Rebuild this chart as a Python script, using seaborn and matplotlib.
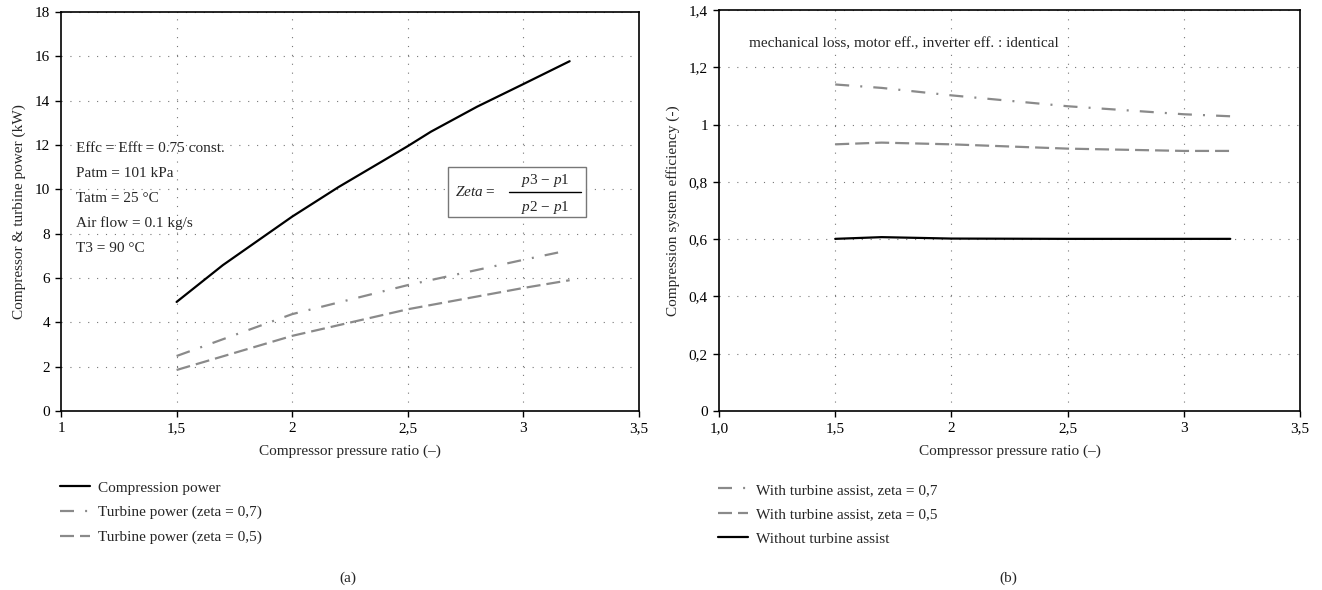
import matplotlib
matplotlib.use("Agg")
import matplotlib.pyplot as plt
from matplotlib.patches import Rectangle
import seaborn as sns

# ---- data ----
ratio_comp = [1.5, 1.7, 2.0, 2.2, 2.4, 2.5, 2.6, 2.8, 3.0, 3.2]
comp_power = [4.92, 6.58, 8.77, 10.1, 11.33, 11.95, 12.6, 13.73, 14.75, 15.78]
ratio_t07 = [1.5, 2.0, 2.5, 3.0, 3.15]
turb_07 = [2.48, 4.37, 5.68, 6.82, 7.15]
ratio_t05 = [1.5, 2.0, 2.5, 3.0, 3.2]
turb_05 = [1.85, 3.39, 4.59, 5.55, 5.9]

ratio_eff = [1.5, 1.7, 2.0, 2.5, 3.0, 3.2]
eff_07 = [1.140, 1.128, 1.102, 1.064, 1.036, 1.029]
eff_05 = [0.931, 0.937, 0.931, 0.916, 0.908, 0.908]
eff_none = [0.601, 0.607, 0.602, 0.601, 0.601, 0.601]

xticks_a = [1, 1.5, 2, 2.5, 3, 3.5]
xlabels_a = ["1", "1,5", "2", "2,5", "3", "3,5"]
xlabels_b = ["1,0", "1,5", "2", "2,5", "3", "3,5"]
yticks_a = [0, 2, 4, 6, 8, 10, 12, 14, 16, 18]
yticks_b = [0, 0.2, 0.4, 0.6, 0.8, 1.0, 1.2, 1.4]
ylabels_b = ["0", "0,2", "0,4", "0,6", "0,8", "1", "1,2", "1,4"]

sns.set_theme(style="white")
plt.rcParams["font.family"] = ["Liberation Serif", "DejaVu Serif"]
plt.rcParams["mathtext.fontset"] = "custom"
plt.rcParams["mathtext.rm"] = "Liberation Serif"
plt.rcParams["mathtext.it"] = "Liberation Serif:italic"

W, H = 1322, 590
fig = plt.figure(figsize=(W / 100, H / 100), dpi=100)
fig.patch.set_facecolor("white")

def ax_rect(x0, x1, y0, y1):
    return [x0 / W, 1 - y1 / H, (x1 - x0) / W, (y1 - y0) / H]

axA = fig.add_axes(ax_rect(61, 639, 12, 411))
axB = fig.add_axes(ax_rect(719, 1300, 10, 411))

FS = 11
GRAY = "#8a8a8a"
DASHDOT = (0, (6.3, 5, 0.9, 5))
DASHED = (0, (6.3, 2.7))

def style(ax, yticks, ylabels, xlabels, ylim, ylabel):
    ax.set_xlim(1, 3.5)
    ax.set_ylim(*ylim)
    ax.set_xticks(xticks_a)
    ax.set_xticklabels(xlabels, fontsize=FS)
    ax.set_yticks(yticks)
    ax.set_yticklabels(ylabels, fontsize=FS)
    ax.tick_params(axis="both", direction="out", length=4, width=1, colors="black",
                   bottom=True, left=True, pad=4)
    for s in ax.spines.values():
        s.set_color("black")
        s.set_linewidth(1.2)
    ax.set_xlabel("Compressor pressure ratio (–)", fontsize=FS, labelpad=7)
    ax.set_ylabel(ylabel, fontsize=FS, labelpad=6)
    for xv in xticks_a[1:-1]:
        ax.axvline(xv, color="#777777", lw=0.8, ls=(0, (1, 7)), zorder=0)
    for yv in yticks[1:]:
        ax.axhline(yv, color="#777777", lw=0.8, ls=(0, (1, 7)), zorder=0)

# ---- panel (a) ----
sns.lineplot(x=ratio_comp, y=comp_power, ax=axA, color="black", lw=1.6,
             label="Compression power")
sns.lineplot(x=ratio_t07, y=turb_07, ax=axA, color=GRAY, lw=1.6,
             linestyle=DASHDOT, label="Turbine power (zeta = 0,7)")
sns.lineplot(x=ratio_t05, y=turb_05, ax=axA, color=GRAY, lw=1.6,
             linestyle=DASHED, label="Turbine power (zeta = 0,5)")
style(axA, yticks_a, [str(v) for v in yticks_a], xlabels_a, (0, 18),
      "Compressor & turbine power (kW)")

notes = ["Effc = Efft = 0.75 const.", "Patm = 101 kPa", "Tatm = 25 °C",
         "Air flow = 0.1 kg/s", "T3 = 90 °C"]
for i, t in enumerate(notes):
    axA.text(1.063, 11.85 - i * 1.128, t, fontsize=FS, va="center", ha="left")

# Zeta formula box
axA.add_patch(Rectangle((2.674, 8.75), 3.271 - 2.674, 11.006 - 8.75,
                        fc="white", ec="#777777", lw=1.0, zorder=3))
axA.text(2.704, 9.878, "$Zeta$ =", fontsize=FS, ha="left", va="center", zorder=4)
axA.plot([2.938, 3.249], [9.878, 9.878], color="black", lw=1.0, zorder=4)
axA.text(3.093, 10.40, "$p$3 − $p$1", fontsize=FS, ha="center", va="center", zorder=4)
axA.text(3.093, 9.20, "$p$2 − $p$1", fontsize=FS, ha="center", va="center", zorder=4)

# ---- panel (b) ----
sns.lineplot(x=ratio_eff, y=eff_07, ax=axB, color=GRAY, lw=1.6,
             linestyle=DASHDOT, label="With turbine assist, zeta = 0,7")
sns.lineplot(x=ratio_eff, y=eff_05, ax=axB, color=GRAY, lw=1.6,
             linestyle=DASHED, label="With turbine assist, zeta = 0,5")
sns.lineplot(x=ratio_eff, y=eff_none, ax=axB, color="black", lw=1.6,
             label="Without turbine assist")
style(axB, yticks_b, ylabels_b, xlabels_b, (0, 1.4),
      "Compression system efficiency (-)")
axB.text(1.128, 1.284, "mechanical loss, motor eff., inverter eff. : identical",
         fontsize=FS, va="center", ha="left")

# ---- legends below ----
for ax, x0, y0 in ((axA, 60, 481), (axB, 718, 483)):
    h, l = ax.get_legend_handles_labels()
    ax.get_legend().remove()
    fig.legend(h, l, loc="upper left", bbox_to_anchor=(x0 / W, 1 - y0 / H),
               frameon=False, fontsize=FS, handlelength=1.95, handletextpad=0.55,
               labelspacing=0.71, borderpad=0, borderaxespad=0)

fig.text(348 / W, 1 - 578 / H, "(a)", fontsize=FS, ha="center", va="center")
fig.text(1008 / W, 1 - 578 / H, "(b)", fontsize=FS, ha="center", va="center")

fig.savefig("out.png", dpi=100, facecolor="white")
